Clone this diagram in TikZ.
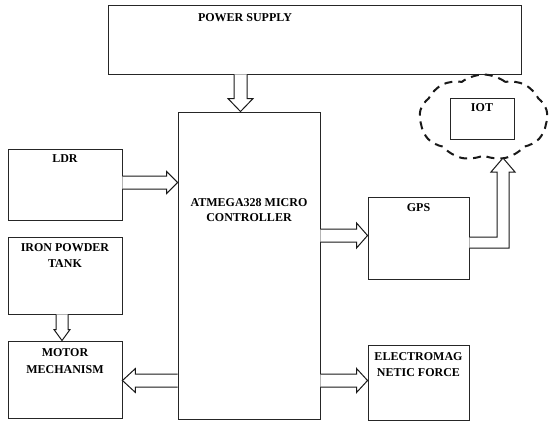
\documentclass[tikz,border=0pt]{standalone}
\usepackage{fontspec}
\setmainfont{Liberation Serif}
\usetikzlibrary{calc,shapes.symbols}
\tikzset{
  box/.style={draw=black!85, line width=0.9pt, inner sep=0pt, fill=white},
  lbl/.style={anchor=north, inner sep=0pt, align=center, font=\fontsize{12}{16}\selectfont\bfseries},
  blkstyle/.style={draw=black!90, line width=1pt, fill=white, line join=miter},
}
% #1 tail, #2 tip, #3 ux, #4 uy, #5 shaft half, #6 head half, #7 head length
\newcommand\blk[7]{%
 \draw[blkstyle] ($(#1)+({-(#4)*#5},{(#3)*#5})$)
   -- ($(#2)+({-(#3)*#7-(#4)*#5},{-(#4)*#7+(#3)*#5})$)
   -- ($(#2)+({-(#3)*#7-(#4)*#6},{-(#4)*#7+(#3)*#6})$)
   -- (#2)
   -- ($(#2)+({-(#3)*#7+(#4)*#6},{-(#4)*#7-(#3)*#6})$)
   -- ($(#2)+({-(#3)*#7+(#4)*#5},{-(#4)*#7-(#3)*#5})$)
   -- ($(#1)+({(#4)*#5},{-(#3)*#5})$);}
\begin{document}
\begin{tikzpicture}[x=1pt,y=-1pt]
\useasboundingbox (0,0) rectangle (550,423);
% boxes
\node[box, minimum width=413, minimum height=69] (ps) at (314.5,39.5) {};
\node[box, minimum width=142, minimum height=307] (atm) at (249,265.5) {};
\node[box, minimum width=114, minimum height=71] (ldr) at (65,184.5) {};
\node[box, minimum width=114, minimum height=77] (iron) at (65,275.5) {};
\node[box, minimum width=114, minimum height=77] (motor) at (65,379.5) {};
\node[box, minimum width=101, minimum height=82] (gps) at (418.5,238) {};
\node[box, minimum width=101, minimum height=75] (em) at (418.5,382.5) {};
\node[cloud, cloud puffs=9, cloud puff arc=75, aspect=1.5, draw=black!90, line width=2pt,
      dash pattern=on 8pt off 6pt, minimum width=128, minimum height=86, inner sep=0pt] (cloud) at (483.5,117.5) {};
\node[box, minimum width=64, minimum height=41] (iot) at (482,118.5) {};
% labels
\node[lbl] (tps) at (245,13) {POWER SUPPLY};
\node[lbl, font=\fontsize{12}{15}\selectfont\bfseries] (tatm) at (249,198) {ATMEGA328 MICRO\\CONTROLLER};
\node[lbl] (tldr) at (65,154) {LDR};
\node[lbl] (tiron) at (65,243) {IRON POWDER\\TANK};
\node[lbl, font=\fontsize{12}{17.5}\selectfont\bfseries] (tmotor) at (65,348) {MOTOR\\MECHANISM};
\node[lbl] (tgps) at (418.5,203) {GPS};
\node[lbl] (tem) at (418.5,352) {ELECTROMAG\\NETIC FORCE};
\node[lbl] (tiot) at (482,103) {IOT};
% arrow end points
\coordinate (pa1) at (240.5,0 |- ps.south);
\coordinate (pa2) at (240.5,0 |- atm.north);
\coordinate (la1) at (ldr.east |- 0,182.5);
\coordinate (la2) at (atm.west |- 0,182.5);
\coordinate (ga1) at (atm.east |- 0,235.5);
\coordinate (ga2) at (gps.west |- 0,235.5);
\coordinate (ea1) at (atm.east |- 0,380.5);
\coordinate (ea2) at (em.west |- 0,380.5);
\coordinate (ma1) at (atm.west |- 0,380.5);
\coordinate (ma2) at (motor.east |- 0,380.5);
\coordinate (ia1) at (62,0 |- iron.south);
\coordinate (ia2) at (62,0 |- motor.north);
\coordinate (iottip) at (503,158);
% block arrows
\blk{pa1}{pa2}{0}{1}{6.5}{12.5}{13}
\blk{la1}{la2}{1}{0}{6.5}{11}{11}
\blk{ga1}{ga2}{1}{0}{6.5}{12.5}{11}
\blk{ea1}{ea2}{1}{0}{6.5}{12}{11}
\blk{ma1}{ma2}{-1}{0}{6.5}{12}{13}
\blk{ia1}{ia2}{0}{1}{6}{8}{11}
% elbow arrow GPS -> IOT
\draw[blkstyle] ($(gps.east)+(0,10)$) -- ($(iottip)+(6,90)$) -- ($(iottip)+(6,14)$) -- ($(iottip)+(12,14)$)
  -- (iottip) -- ($(iottip)+(-12,14)$) -- ($(iottip)+(-6,14)$) -- ($(iottip)+(-6,79)$) -- ($(gps.east)+(0,-1)$);
\end{tikzpicture}
\end{document}
